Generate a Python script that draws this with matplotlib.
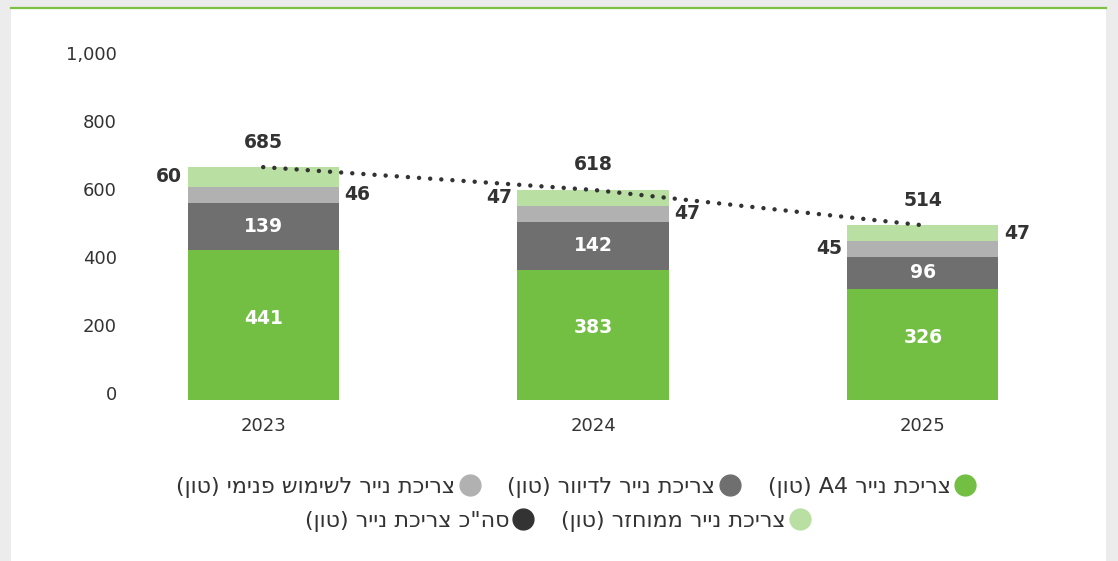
import re
import matplotlib
matplotlib.use("Agg")
import matplotlib.pyplot as plt
from matplotlib.lines import Line2D
from matplotlib.patches import Rectangle

plt.rcParams['font.family'] = ['DejaVu Sans']

# data
years = ['2023', '2024', '2025']
a4 = [441, 383, 326]
mailing = [139, 142, 96]
internal = [46, 47, 45]
recycled = [60, 47, 47]
totals = [685, 618, 514]

labels = ['צריכת נייר A4 (טון)',
          'צריכת נייר לדיוור (טון)',
          'צריכת נייר לשימוש פנימי (טון)',
          'צריכת נייר ממוחזר (טון)',
          'סה"כ צריכת נייר (טון)']

GREEN = '#72bf44'
DARK = '#6f6f6f'
LIGHT = '#b1b1b1'
LGREEN = '#b9dfa3'
TOTAL = '#333333'
TXT = '#333333'


def visual(s):
    # matplotlib has no bidi support: give Hebrew in visual order
    r = s[::-1].translate(str.maketrans('()', ')('))
    return re.sub(r'[A-Za-z0-9]+', lambda m: m.group(0)[::-1], r)


fig = plt.figure(figsize=(11.18, 5.61), dpi=100, facecolor='#ececec')
# white card with green top rule
fig.patches.append(Rectangle((11 / 1118, 0), 1095 / 1118, 553 / 561,
                             transform=fig.transFigure, facecolor='white',
                             edgecolor='none', zorder=-5))
fig.add_artist(Line2D([11 / 1118, 1106 / 1118], [553 / 561, 553 / 561],
                      transform=fig.transFigure, color='#7dc142', lw=1.6, zorder=-4))

ax = fig.add_axes([128 / 1118, 161 / 561, 930 / 1118, 340 / 561])
ax.set_facecolor('none')
ax.set_zorder(2)

x = list(range(len(years)))
w = 0.458
bottoms = [0, 0, 0]
segments = [(a4, GREEN), (mailing, DARK), (internal, LIGHT), (recycled, LGREEN)]
for vals, col in segments:
    ax.bar(x, vals, w, bottom=bottoms, color=col, zorder=2)
    bottoms = [b + v for b, v in zip(bottoms, vals)]

ax.plot(x, totals, color=TOTAL, lw=3.2, linestyle=(0, (0.01, 2.5)),
        dash_capstyle='round', zorder=3)

# value labels
for i in x:
    ax.annotate(str(a4[i]), (i, a4[i] / 2), xytext=(0, 5), textcoords='offset points',
                ha='center', va='center', color='white', fontsize=13.5, fontweight='bold')
    ax.text(i, a4[i] + mailing[i] / 2, str(mailing[i]), ha='center', va='center',
            color='white', fontsize=13.5, fontweight='bold')
    ax.annotate(str(totals[i]), (i, totals[i]), xytext=(0, 18), textcoords='offset points',
                ha='center', va='center', color=TXT, fontsize=13.5, fontweight='bold')

    y_int = a4[i] + mailing[i] + internal[i] / 2
    y_rec = a4[i] + mailing[i] + internal[i] + recycled[i] / 2
    rec_left = i < 2
    for val, yy, left in [(recycled[i], y_rec, rec_left), (internal[i], y_int, not rec_left)]:
        if left:
            ax.annotate(str(val), (i - w / 2, yy), xytext=(-4, 0), textcoords='offset points',
                        ha='right', va='center', color=TXT, fontsize=13.5, fontweight='bold')
        else:
            ax.annotate(str(val), (i + w / 2, yy), xytext=(4, 0), textcoords='offset points',
                        ha='left', va='center', color=TXT, fontsize=13.5, fontweight='bold')

ax.set_xlim(-0.41, 2.41)
ax.set_ylim(0, 1000)
ax.set_xticks(x)
ax.set_xticklabels(years)
ax.set_yticks(range(0, 1001, 200))
ax.set_yticklabels([f'{v:,}' for v in range(0, 1001, 200)], va='baseline')
ax.tick_params(axis='both', length=0, labelsize=13, colors=TXT)
ax.tick_params(axis='y', pad=8)
ax.tick_params(axis='x', pad=12)
for s in ax.spines.values():
    s.set_visible(False)


def handle(col):
    return Line2D([], [], marker='o', linestyle='none', markersize=15,
                  markerfacecolor=col, markeredgecolor=col)


leg_kw = dict(loc='center', frameon=False, markerfirst=False, fontsize=16,
              handlelength=1.0, handletextpad=0.15, columnspacing=1.2,
              labelcolor=TXT)
fig.legend([handle(LIGHT), handle(DARK), handle(GREEN)],
           [visual(labels[2]), visual(labels[1]), visual(labels[0])],
           ncol=3, bbox_to_anchor=(576 / 1118, 1 - 487 / 561), **leg_kw)
fig.legend([handle(TOTAL), handle(LGREEN)],
           [visual(labels[4]), visual(labels[3])],
           ncol=2, bbox_to_anchor=(558 / 1118, 1 - 521 / 561), **leg_kw)

fig.savefig('out.png', dpi=100, facecolor=fig.get_facecolor())
